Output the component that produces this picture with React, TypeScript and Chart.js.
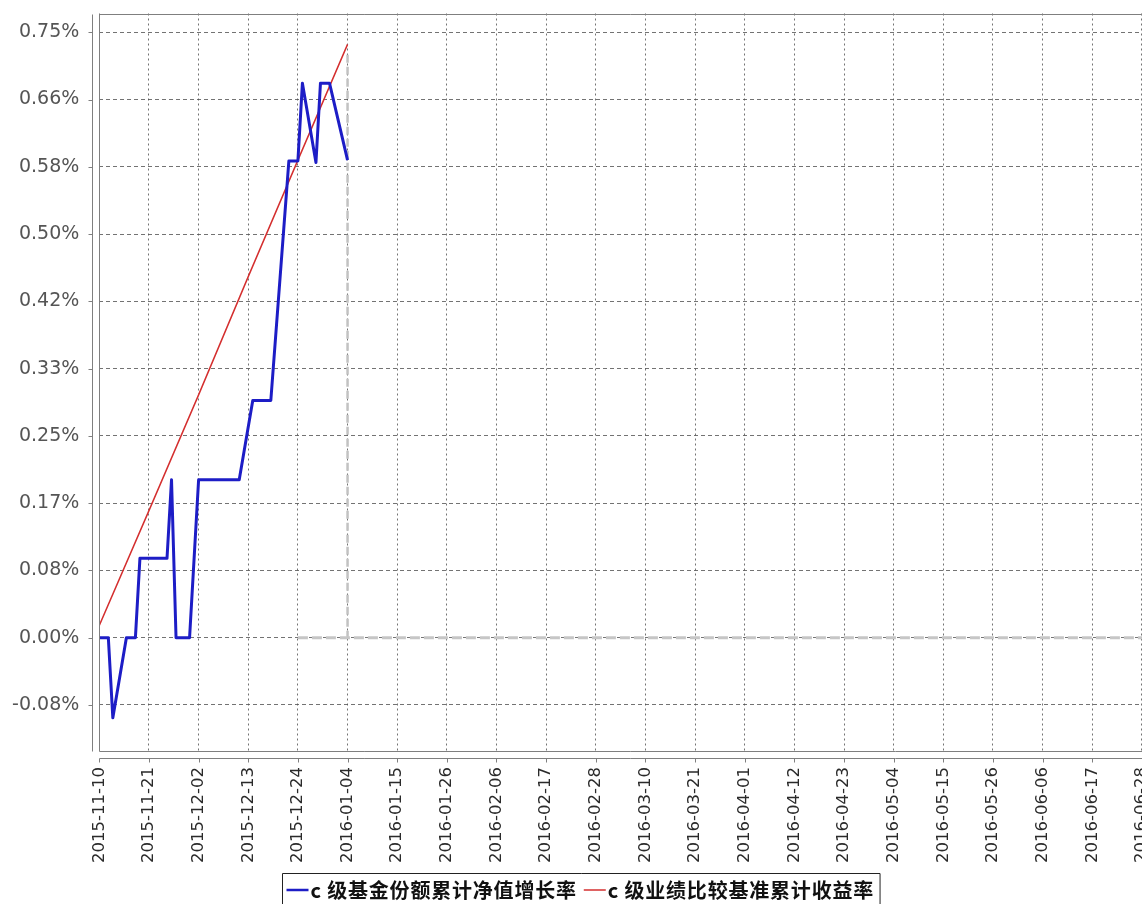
import React, { useEffect, useRef } from 'react';
import { Chart, registerables } from 'chart.js';

Chart.register(...registerables);

// ---------- data ----------
const BASE_DATE = '2015-11-10';

const BLUE_LABEL = 'c 级基金份额累计净值增长率';
const RED_LABEL = 'c 级业绩比较基准累计收益率';

const BLUE_DATES = [
  '2015-11-10', '2015-11-12', '2015-11-13', '2015-11-16', '2015-11-18', '2015-11-19',
  '2015-11-25', '2015-11-26', '2015-11-27', '2015-11-30', '2015-12-02', '2015-12-11',
  '2015-12-14', '2015-12-18', '2015-12-22', '2015-12-24', '2015-12-25', '2015-12-28',
  '2015-12-29', '2015-12-31', '2016-01-04',
];
const BLUE_VALUES = [
  0, 0, -0.099, 0, 0, 0.098,
  0.098, 0.195, 0, 0, 0.195, 0.195,
  0.293, 0.293, 0.589, 0.589, 0.685, 0.587,
  0.685, 0.685, 0.59,
];

const RED_DATES = ['2015-11-10', '2015-11-21', '2015-12-02', '2015-12-13', '2015-12-24', '2016-01-04'];
const RED_VALUES = [0.015, 0.157, 0.3, 0.446, 0.59, 0.733];

const GRAY_H_DATES = ['2015-12-24', '2016-07-02'];
const GRAY_H_VALUES = [0, 0];
const GRAY_V_DATES = ['2016-01-04', '2016-01-04'];
const GRAY_V_VALUES = [0.72, 0];

const X_TICK_LABELS = [
  '2015-11-10', '2015-11-21', '2015-12-02', '2015-12-13', '2015-12-24', '2016-01-04',
  '2016-01-15', '2016-01-26', '2016-02-06', '2016-02-17', '2016-02-28', '2016-03-10',
  '2016-03-21', '2016-04-01', '2016-04-12', '2016-04-23', '2016-05-04', '2016-05-15',
  '2016-05-26', '2016-06-06', '2016-06-17', '2016-06-28',
];
const X_MAX_DATE = '2016-07-02';

const Y_TICK_VALUES = [-0.0831, 0, 0.0831, 0.1662, 0.2493, 0.3324, 0.4155, 0.4986, 0.5817, 0.6648, 0.7479];
const Y_TICK_LABELS = ['-0.08%', '0.00%', '0.08%', '0.17%', '0.25%', '0.33%', '0.42%', '0.50%', '0.58%', '0.66%', '0.75%'];
const Y_MIN = -0.1394;
const Y_MAX = 0.7711;

// ---------- helpers ----------
const toUTC = (s: string) => {
  const [y, m, d] = s.split('-').map(Number);
  return Date.UTC(y, m - 1, d);
};
const dayOf = (s: string) => (toUTC(s) - toUTC(BASE_DATE)) / 86400000;
const points = (dates: string[], vals: number[]) => dates.map((d, i) => ({ x: dayOf(d), y: vals[i] }));

const GRID_COLOR = 'rgba(80,80,80,0.8)';
const AXIS_COLOR = '#7f7f7f';

const framePlugin = {
  id: 'frame',
  afterDatasetsDraw(chart: any) {
    const { ctx, chartArea: a, scales } = chart;
    ctx.save();
    ctx.strokeStyle = AXIS_COLOR;
    ctx.lineWidth = 1;
    const L = Math.round(a.left) + 0.5;
    const T = Math.round(a.top) + 0.5;
    const B = Math.round(a.bottom) + 0.5;
    const R = a.right + 5;
    // plot outline
    ctx.beginPath();
    ctx.moveTo(R, T);
    ctx.lineTo(L, T);
    ctx.lineTo(L, B);
    ctx.lineTo(R, B);
    ctx.stroke();
    // range axis line (offset left)
    const ax = L - 7;
    ctx.beginPath();
    ctx.moveTo(ax, T);
    ctx.lineTo(ax, B);
    scales.y.ticks.forEach((t: any) => {
      const py = Math.round(scales.y.getPixelForValue(t.value)) + 0.5;
      ctx.moveTo(ax - 4, py);
      ctx.lineTo(ax, py);
    });
    ctx.stroke();
    // domain axis line (offset below)
    const ay = B + 7;
    ctx.beginPath();
    ctx.moveTo(L, ay);
    ctx.lineTo(R, ay);
    scales.x.ticks.forEach((t: any) => {
      const px = Math.round(scales.x.getPixelForValue(t.value)) + 0.5;
      ctx.moveTo(px, ay);
      ctx.lineTo(px, ay + 4);
    });
    ctx.stroke();
    ctx.restore();
  },
};

const LEGEND_CENTER_X = 580.5;
const LEGEND_TOP = 873.5;
const LEGEND_MID_Y = 890;

const legendPlugin = {
  id: 'boxLegend',
  afterDraw(chart: any) {
    const ctx = chart.ctx;
    const items = chart.data.datasets.filter((d: any) => d.inLegend);
    ctx.save();
    ctx.font = 'bold 20px "Noto Sans CJK SC", sans-serif';
    try {
      (ctx as any).letterSpacing = '0.8px';
    } catch (e) {
      /* ignore */
    }
    ctx.textBaseline = 'middle';
    ctx.textAlign = 'left';
    const PAD_L = 4, LINE_LEN = 22, LINE_GAP = 2, ITEM_GAP = 7, PAD_R = 6;
    const widths = items.map((d: any) => ctx.measureText(d.label).width);
    let total = PAD_L + PAD_R + ITEM_GAP * (items.length - 1);
    widths.forEach((w: number) => (total += LINE_LEN + LINE_GAP + w));
    const left = Math.round(LEGEND_CENTER_X - total / 2) + 0.5;
    // box
    ctx.strokeStyle = '#222';
    ctx.lineWidth = 1;
    ctx.beginPath();
    ctx.moveTo(left, 910);
    ctx.lineTo(left, LEGEND_TOP);
    ctx.lineTo(left + total, LEGEND_TOP);
    ctx.lineTo(left + total, 910);
    ctx.stroke();
    let x = left + PAD_L;
    items.forEach((d: any, i: number) => {
      ctx.strokeStyle = d.borderColor;
      ctx.lineWidth = Math.min(d.borderWidth, 2.5);
      ctx.beginPath();
      ctx.moveTo(x, LEGEND_MID_Y);
      ctx.lineTo(x + LINE_LEN, LEGEND_MID_Y);
      ctx.stroke();
      x += LINE_LEN + LINE_GAP;
      ctx.fillStyle = '#111';
      ctx.fillText(d.label, x, LEGEND_MID_Y);
      x += widths[i] + ITEM_GAP;
    });
    ctx.restore();
  },
};

export default function App() {
  const canvasRef = useRef<HTMLCanvasElement | null>(null);

  useEffect(() => {
    if (!canvasRef.current) return;
    const chart = new Chart(canvasRef.current, {
      type: 'line',
      data: {
        datasets: [
          {
            label: BLUE_LABEL,
            data: points(BLUE_DATES, BLUE_VALUES),
            borderColor: '#1d1dc6',
            borderWidth: 3,
            borderJoinStyle: 'round',
            pointRadius: 0,
            tension: 0,
            inLegend: true,
          } as any,
          {
            label: RED_LABEL,
            data: points(RED_DATES, RED_VALUES),
            borderColor: '#d42f2f',
            borderWidth: 1.5,
            pointRadius: 0,
            tension: 0,
            inLegend: true,
          } as any,
          {
            label: 'gray-h',
            data: points(GRAY_H_DATES, GRAY_H_VALUES),
            borderColor: '#c6c6c6',
            borderWidth: 3,
            borderDash: [10, 4],
            pointRadius: 0,
            inLegend: false,
          } as any,
          {
            label: 'gray-v',
            data: points(GRAY_V_DATES, GRAY_V_VALUES),
            borderColor: '#c2c2c2',
            borderWidth: 2.5,
            borderDash: [8, 4],
            pointRadius: 0,
            inLegend: false,
          } as any,
        ],
      },
      options: {
        animation: false,
        responsive: false,
        layout: { padding: { left: 0, right: 0, top: 13.5, bottom: 0 } },
        plugins: { legend: { display: false }, tooltip: { enabled: false } },
        scales: {
          x: {
            type: 'linear',
            min: 0,
            max: dayOf(X_MAX_DATE),
            afterBuildTicks: (axis: any) => {
              axis.ticks = X_TICK_LABELS.map((d) => ({ value: dayOf(d) }));
            },
            afterFit: (axis: any) => {
              axis.height = 153.5;
              axis.paddingLeft = 0;
              axis.paddingRight = 0;
            },
            ticks: {
              autoSkip: false,
              minRotation: 90,
              maxRotation: 90,
              padding: 16.5,
              color: '#2a2a2a',
              font: { family: '"DejaVu Sans"', size: 16.5 },
              callback: (_v: any, i: number) => X_TICK_LABELS[i],
            },
            grid: { color: GRID_COLOR, lineWidth: 1, drawTicks: false },
            border: { display: false, dash: [2, 3] },
          },
          y: {
            type: 'linear',
            min: Y_MIN,
            max: Y_MAX,
            afterBuildTicks: (axis: any) => {
              axis.ticks = Y_TICK_VALUES.map((v) => ({ value: v }));
            },
            afterFit: (axis: any) => {
              axis.width = 99.3;
              axis.paddingTop = 0;
              axis.paddingBottom = 0;
            },
            ticks: {
              padding: 20,
              color: '#555',
              font: { family: '"DejaVu Sans"', size: 19 },
              callback: (_v: any, i: number) => Y_TICK_LABELS[i],
            },
            grid: { color: GRID_COLOR, lineWidth: 1, drawTicks: false },
            border: { display: false, dash: [4, 3] },
          },
        },
      } as any,
      plugins: [framePlugin, legendPlugin],
    });
    return () => chart.destroy();
  }, []);

  return (
    <div
      style={{
        position: 'fixed',
        left: 0,
        top: 0,
        width: 1142,
        height: 904,
        overflow: 'hidden',
        background: '#fff',
      }}
    >
      <canvas ref={canvasRef} width={1160} height={904} style={{ display: 'block' }} />
    </div>
  );
}
